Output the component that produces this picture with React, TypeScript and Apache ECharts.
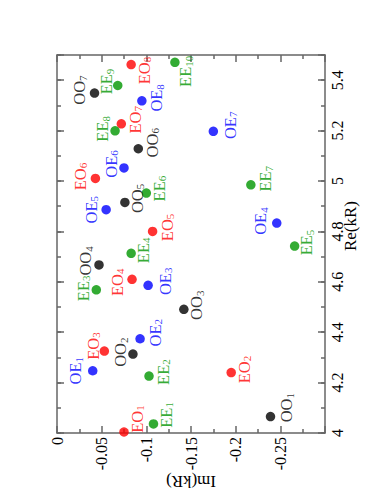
import React, { useEffect, useRef } from "react";
import * as echarts from "echarts";

const FONT = '"Liberation Serif", "Times New Roman", serif';

// Resonances: index in each list = subscript - 1
const ooRe = [4.065, 4.313, 4.491, 4.667, 4.915, 5.128, 5.349];
const ooIm = [-0.239, -0.085, -0.142, -0.047, -0.076, -0.091, -0.042];

const oeRe = [4.247, 4.374, 4.586, 4.833, 4.886, 5.052, 5.197, 5.318];
const oeIm = [-0.040, -0.093, -0.102, -0.246, -0.055, -0.075, -0.175, -0.095];

const eoRe = [4.004, 4.240, 4.325, 4.610, 4.800, 5.010, 5.227, 5.462];
const eoIm = [-0.075, -0.195, -0.053, -0.084, -0.107, -0.043, -0.072, -0.083];

const eeRe = [4.036, 4.226, 4.568, 4.713, 4.742, 4.952, 4.985, 5.199, 5.379, 5.471];
const eeIm = [-0.108, -0.103, -0.044, -0.083, -0.266, -0.100, -0.217, -0.065, -0.068, -0.132];

// label nudges (screen px from point centre), layout only
const labelNudge: Record<string, [number, number]> = {
  OO1: [16, -9], OO2: [-12, -2], OO3: [13, -4], OO4: [-13, -4], OO5: [12.5, -4], OO6: [14, -6], OO7: [-15, -3],
  OE1: [-17, 0], OE2: [15, -6], OE3: [17, -4], OE4: [-16, -2], OE5: [-15, 0], OE6: [-13, -4], OE7: [17, -6], OE8: [15, -3],
  EO1: [13, -13], EO2: [13, -3], EO3: [-11, -5], EO4: [-15, 3], EO5: [14.5, -4], EO6: [-15, -2], EO7: [14, -4], EO8: [13, 6],
  EE1: [13, -9], EE2: [14, -4], EE3: [-13, -1.5], EE4: [12, -3], EE5: [12, -3.5], EE6: [13, -4.5], EE7: [15, -6], EE8: [-12.5, -2], EE9: [-11, -4], EE10: [11, 9],
};

const families = [
  { key: "OO", re: ooRe, im: ooIm, color: "#000000" },
  { key: "OE", re: oeRe, im: oeIm, color: "#0000ff" },
  { key: "EO", re: eoRe, im: eoIm, color: "#ff0000" },
  { key: "EE", re: eeRe, im: eeIm, color: "#009600" },
];

const AXIS_COLOR = "#666666";
const SYMBOL = 9.5;

export default function App() {
  const ref = useRef<HTMLDivElement>(null);
  useEffect(() => {
    if (!ref.current) return;
    const chart = echarts.init(ref.current, null, { renderer: "svg" });
    const lineStyle = { color: AXIS_COLOR, width: 1.5 };
    const baseX = {
      type: "value",
      min: -0.3,
      max: 0,
      interval: 0.05,
      inverse: true,
      axisLine: { show: true, onZero: false, lineStyle },
      axisTick: { show: true, inside: true, length: 7, lineStyle },
      minorTick: { show: true, splitNumber: 2, length: 4, lineStyle },
      splitLine: { show: false },
      minorSplitLine: { show: false },
    };
    const baseY = {
      type: "value",
      min: 4,
      max: 5.5,
      axisLine: { show: false, onZero: false, lineStyle },
      splitLine: { show: false },
      axisLabel: { show: false },
    };
    const series = families.map((f) => ({
      type: "scatter",
      name: f.key,
      symbol: "circle",
      symbolSize: SYMBOL,
      itemStyle: { color: f.color },
      xAxisIndex: 0,
      yAxisIndex: 0,
      label: {
        show: true,
        rotate: 90,
        align: "center",
        verticalAlign: "middle",
        formatter: (p: any) => `{m|${f.key}}{s|${p.dataIndex + 1}}`,
        rich: {
          m: { fontSize: 16.5, fontFamily: FONT, color: f.color, lineHeight: 17, verticalAlign: "bottom" },
          s: { fontSize: 11, fontFamily: FONT, color: f.color, lineHeight: 8, verticalAlign: "bottom" },
        },
      },
      data: f.re.map((re, i) => {
        const nm = f.key + (i + 1);
        const [dx, dy] = labelNudge[nm] || [12, 0];
        return {
          name: nm,
          value: [f.im[i], re],
          label: { position: [SYMBOL / 2 + dx, SYMBOL / 2 + dy] },
        };
      }),
    }));
    chart.setOption({
      animation: false,
      backgroundColor: "#ffffff",
      grid: { left: 57, right: 57, top: 55, bottom: 58 },
      xAxis: [
        {
          ...baseX,
          position: "bottom",
          axisLabel: {
            show: true,
            rotate: 90,
            margin: 4,
            fontSize: 16,
            fontFamily: FONT,
            color: "#000",
            formatter: (v: number) => (v <= -0.299 ? "" : String(Math.round(v * 100) / 100)),
          },
        },
        { ...baseX, position: "top", axisLabel: { show: false } },
      ],
      yAxis: [
        {
          ...baseY,
          position: "right",
          interval: 0.2,
          axisLine: { show: true, onZero: false, lineStyle },
          axisTick: { show: true, inside: true, length: 7, lineStyle },
          axisLabel: {
            show: true,
            rotate: 90,
            margin: 4,
            fontSize: 16,
            fontFamily: FONT,
            color: "#000",
            formatter: (v: number) => (v >= 5.49 ? "" : String(Math.round(v * 10) / 10)),
          },
        },
        { ...baseY, position: "right", interval: 0.1, axisTick: { show: true, inside: true, length: 4, lineStyle } },
        {
          ...baseY,
          position: "left",
          interval: 0.2,
          axisLine: { show: true, onZero: false, lineStyle },
          axisTick: { show: true, inside: true, length: 7, lineStyle },
        },
        { ...baseY, position: "left", interval: 0.1, axisTick: { show: true, inside: true, length: 4, lineStyle } },
      ],
      graphic: [
        {
          type: "text",
          x: 191,
          y: 481,
          rotation: Math.PI,
          style: {
            text: "Im(kR)",
            font: `17px ${FONT}`,
            fill: "#000",
            align: "center",
            verticalAlign: "middle",
            textAlign: "center",
            textVerticalAlign: "middle",
          },
        },
        {
          type: "text",
          x: 350,
          y: 226,
          rotation: Math.PI / 2,
          style: {
            text: "Re(kR)",
            font: `17px ${FONT}`,
            fill: "#000",
            align: "center",
            verticalAlign: "middle",
            textAlign: "center",
            textVerticalAlign: "middle",
          },
        },
      ],
      series,
    });
    return () => chart.dispose();
  }, []);
  return (
    <div
      ref={ref}
      style={{ position: "fixed", left: 0, top: 0, width: 382, height: 491, background: "#fff" }}
    />
  );
}
